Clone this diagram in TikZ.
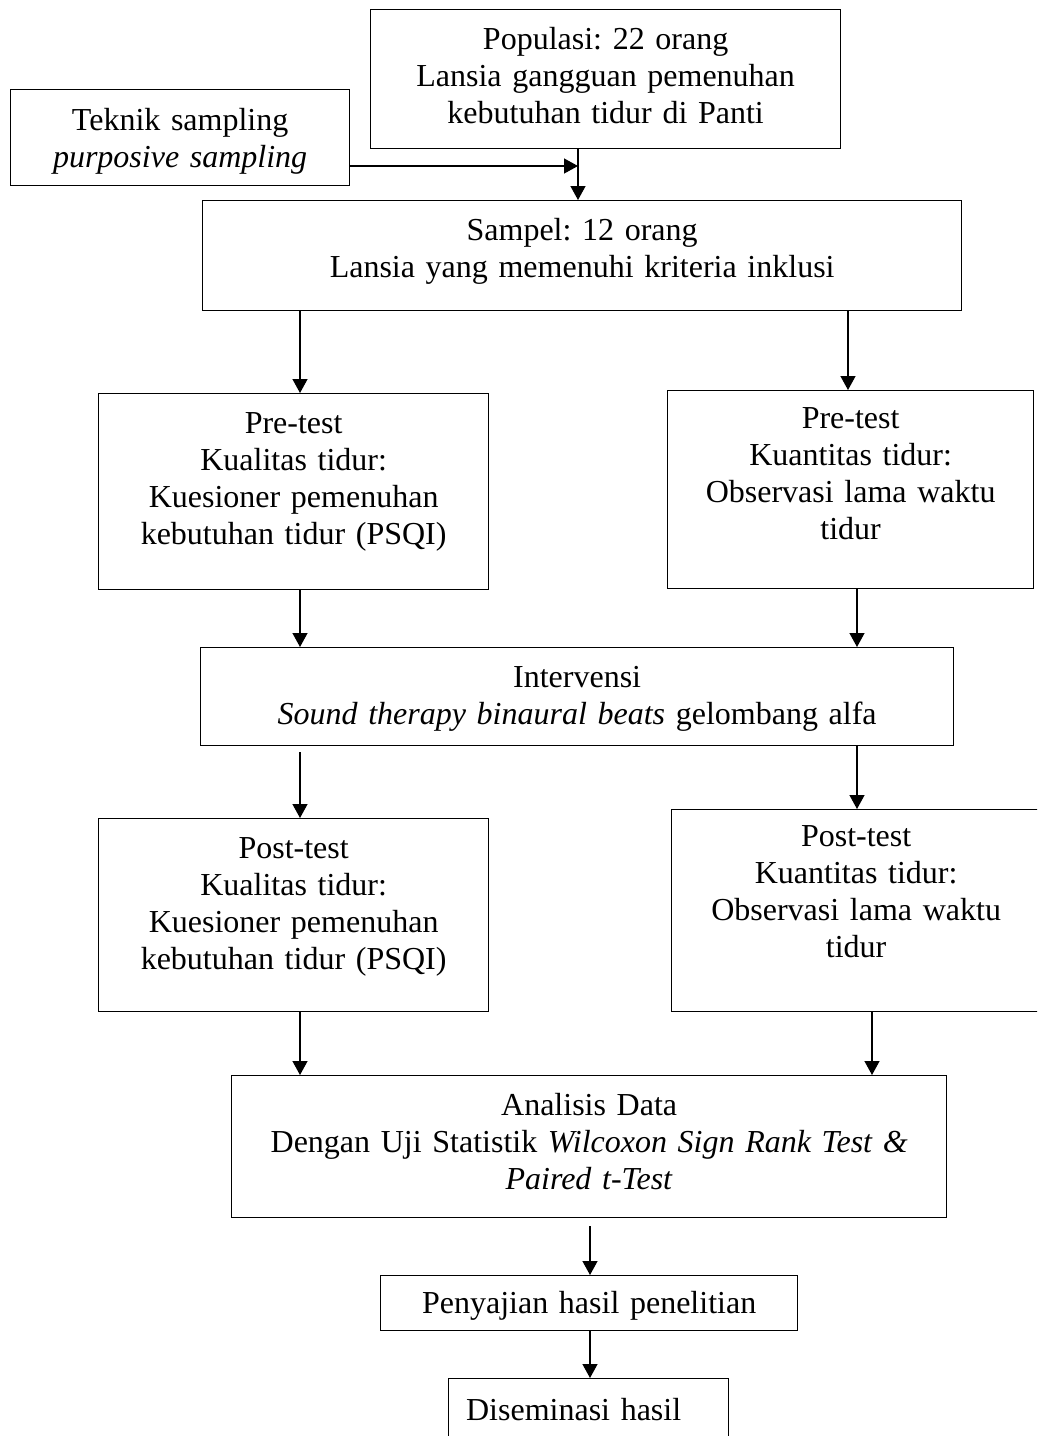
\documentclass[tikz,border=0pt]{standalone}
\usepackage{fontspec}
\setmainfont{Liberation Serif}
\usetikzlibrary{positioning,arrows.meta}
\frenchspacing

\begin{document}
\begin{tikzpicture}[x=1pt,y=-1pt,
box/.style={draw,rectangle,line width=1.3pt,inner sep=0pt,anchor=north west,
    align=center,text height=40pt,font=\fontsize{32pt}{37pt}\selectfont},
flow/.style={line width=1.3pt,-{Triangle[length=14pt,width=15pt]}}]
\clip (0,0) rectangle (1037,1436);

\node (popul) [box,text width=470pt,text depth=99pt] at (370,9)
    {Populasi: 22 orang\\Lansia gangguan pemenuhan\\kebutuhan tidur di Panti};
\node (teknik) [box,text width=339pt,text height=41pt,text depth=55pt] at (10,89)
    {Teknik sampling\\\textit{purposive sampling}};
\node (sampel) [box,text width=759pt,text depth=70pt] at (202,200)
    {Sampel: 12 orang\\Lansia yang memenuhi kriteria inklusi};

\node (preL) [box,text width=390pt,text depth=156pt] at (98,393)
    {Pre-test\\Kualitas tidur:\\Kuesioner pemenuhan\\kebutuhan tidur (PSQI)};
\node (preR) [box,text width=366pt,text height=38pt,text depth=160pt] at (667,390)
    {Pre-test\\Kuantitas tidur:\\Observasi lama waktu\\tidur};

\node (interv) [box,text width=753pt,text depth=58pt] at (200,647)
    {Intervensi\\\textit{Sound therapy binaural beats} gelombang alfa};

\node (postL) [box,text width=390pt,text depth=153pt] at (98,818)
    {Post-test\\Kualitas tidur:\\Kuesioner pemenuhan\\kebutuhan tidur (PSQI)};
\node (postR) [box,text width=369pt,text height=37pt,text depth=165pt] at (671,809)
    {Post-test\\Kuantitas tidur:\\Observasi lama waktu\\tidur};

\node (anal) [box,text width=715pt,text depth=102pt] at (231,1075)
    {Analisis Data\\Dengan Uji Statistik \textit{Wilcoxon Sign Rank Test \&}\\\textit{Paired t-Test}};
\node (peny) [box,text width=417pt,text height=38pt,text depth=17pt] at (380,1275)
    {Penyajian hasil penelitian};
\node (disem) [box,text width=280pt,text height=42pt,text depth=40pt] at (448,1378)
    {\hspace*{-30pt}Diseminasi hasil};

% arrow columns
\coordinate (join) at (578,166);
\coordinate (xl) at (300,0);
\coordinate (xa) at (848,0);
\coordinate (xb) at (857,0);
\coordinate (xc) at (872,0);
\coordinate (xm) at (590,0);

\draw[flow] (teknik.east |- join) -- (join);
\draw[flow] (popul.south -| join) -- (sampel.north -| join);
\draw[flow] (sampel.south -| xl) -- (preL.north -| xl);
\draw[flow] (sampel.south -| xa) -- (preR.north -| xa);
\draw[flow] (preL.south -| xl) -- (interv.north -| xl);
\draw[flow] (preR.south -| xb) -- (interv.north -| xb);
\draw[flow,shorten <=6pt] (interv.south -| xl) -- (postL.north -| xl);
\draw[flow] (interv.south -| xb) -- (postR.north -| xb);
\draw[flow] (postL.south -| xl) -- (anal.north -| xl);
\draw[flow] (postR.south -| xc) -- (anal.north -| xc);
\draw[flow,shorten <=8pt] (anal.south -| xm) -- (peny.north -| xm);
\draw[flow] (peny.south -| xm) -- (disem.north -| xm);
\end{tikzpicture}
\end{document}
